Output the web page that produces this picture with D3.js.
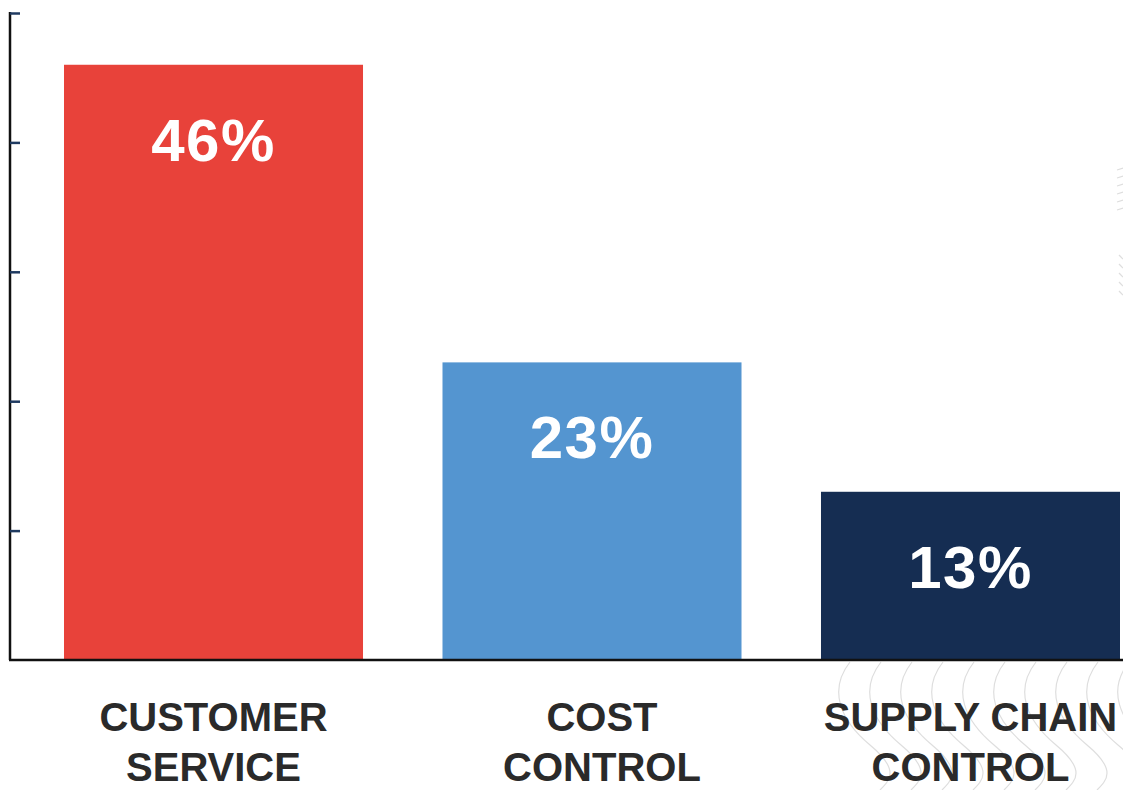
<!DOCTYPE html>
<html>
<head>
<meta charset="UTF-8">
<title>Bar Chart</title>
<script src="https://d3js.org/d3.v7.min.js"></script>
<style>
  body { margin: 0; background: #fff; }
  svg { display: block; }
</style>
</head>
<body>
<svg width="1123" height="790"></svg>
<script>
const categories = [["CUSTOMER", "SERVICE"], ["COST", "CONTROL"], ["SUPPLY CHAIN", "CONTROL"]];
const values = [46, 23, 13];
const barColors = ["#e8423a", "#5495d0", "#152d52"];
const yTicks = [10, 20, 30, 40, 50];

const svg = d3.select("svg"),
      width = +svg.attr("width"),
      height = +svg.attr("height");

const x = d3.scaleBand()
    .domain(d3.range(values.length))
    .range([64, 1120])
    .paddingInner(0.21)
    .paddingOuter(0);

const y = d3.scaleLinear()
    .domain([0, 50])
    .range([660, 13]);

// faint decorative waves, bottom right
const waves = svg.append("g")
    .attr("fill", "none")
    .attr("stroke", "#dedede")
    .attr("stroke-width", 1.2);
d3.range(12).forEach(i => {
    const x0 = 850 + i * 31;
    waves.append("path")
        .attr("d", `M${x0},662 C${x0 - 22},690 ${x0 - 10},720 ${x0 + 20},745 S${x0 + 40},780 ${x0 + 30},790`);
});
d3.range(6).forEach(i => {
    const y0 = 170 + i * 8;
    waves.append("path").attr("d", `M1117,${y0} l6,-2`);
});
d3.range(5).forEach(i => {
    const y0 = 255 + i * 9;
    waves.append("path").attr("d", `M1119,${y0} l4,4`);
});

// bars
svg.selectAll(".bar")
    .data(values)
    .enter().append("rect")
    .attr("class", "bar")
    .attr("x", (d, i) => x(i))
    .attr("y", d => y(d))
    .attr("width", x.bandwidth())
    .attr("height", d => y(0) - y(d))
    .attr("fill", (d, i) => barColors[i]);

// value labels
svg.selectAll(".val")
    .data(values)
    .enter().append("text")
    .attr("class", "val")
    .attr("x", (d, i) => x(i) + x.bandwidth() / 2)
    .attr("y", d => y(d) + 96)
    .attr("text-anchor", "middle")
    .style("font-family", "'Liberation Sans', Arial, sans-serif")
    .style("font-weight", "bold")
    .style("font-size", "60px")
    .style("letter-spacing", "1.5px")
    .style("fill", "#fff")
    .text(d => d + "%");

// y axis
const yAxis = svg.append("g")
    .attr("transform", "translate(10,0)")
    .call(d3.axisLeft(y).tickValues(yTicks).tickSize(-10).tickFormat(""));
yAxis.select(".domain")
    .attr("d", `M0,${y(50) - 1}V${y(0)}`)
    .attr("stroke", "#111")
    .attr("stroke-width", 2.5);
yAxis.selectAll(".tick line")
    .attr("stroke", "#1f3a60")
    .attr("stroke-width", 2.5);

// baseline
svg.append("line")
    .attr("x1", 9).attr("x2", width)
    .attr("y1", y(0)).attr("y2", y(0))
    .attr("stroke", "#111")
    .attr("stroke-width", 2.5);

// category labels
const cat = svg.selectAll(".cat")
    .data(categories)
    .enter().append("text")
    .attr("class", "cat")
    .attr("text-anchor", "middle")
    .style("font-family", "'Liberation Sans', Arial, sans-serif")
    .style("font-weight", "bold")
    .style("font-size", "40px")
    .style("fill", "#2a2a2a");
cat.each(function(lines, i) {
    const cx = x(i) + x.bandwidth() / 2 + (i === 1 ? 10 : 0);
    d3.select(this).selectAll("tspan")
        .data(lines)
        .enter().append("tspan")
        .attr("x", cx)
        .attr("y", (d, j) => 731 + j * 50)
        .text(d => d);
});
</script>
</body>
</html>
